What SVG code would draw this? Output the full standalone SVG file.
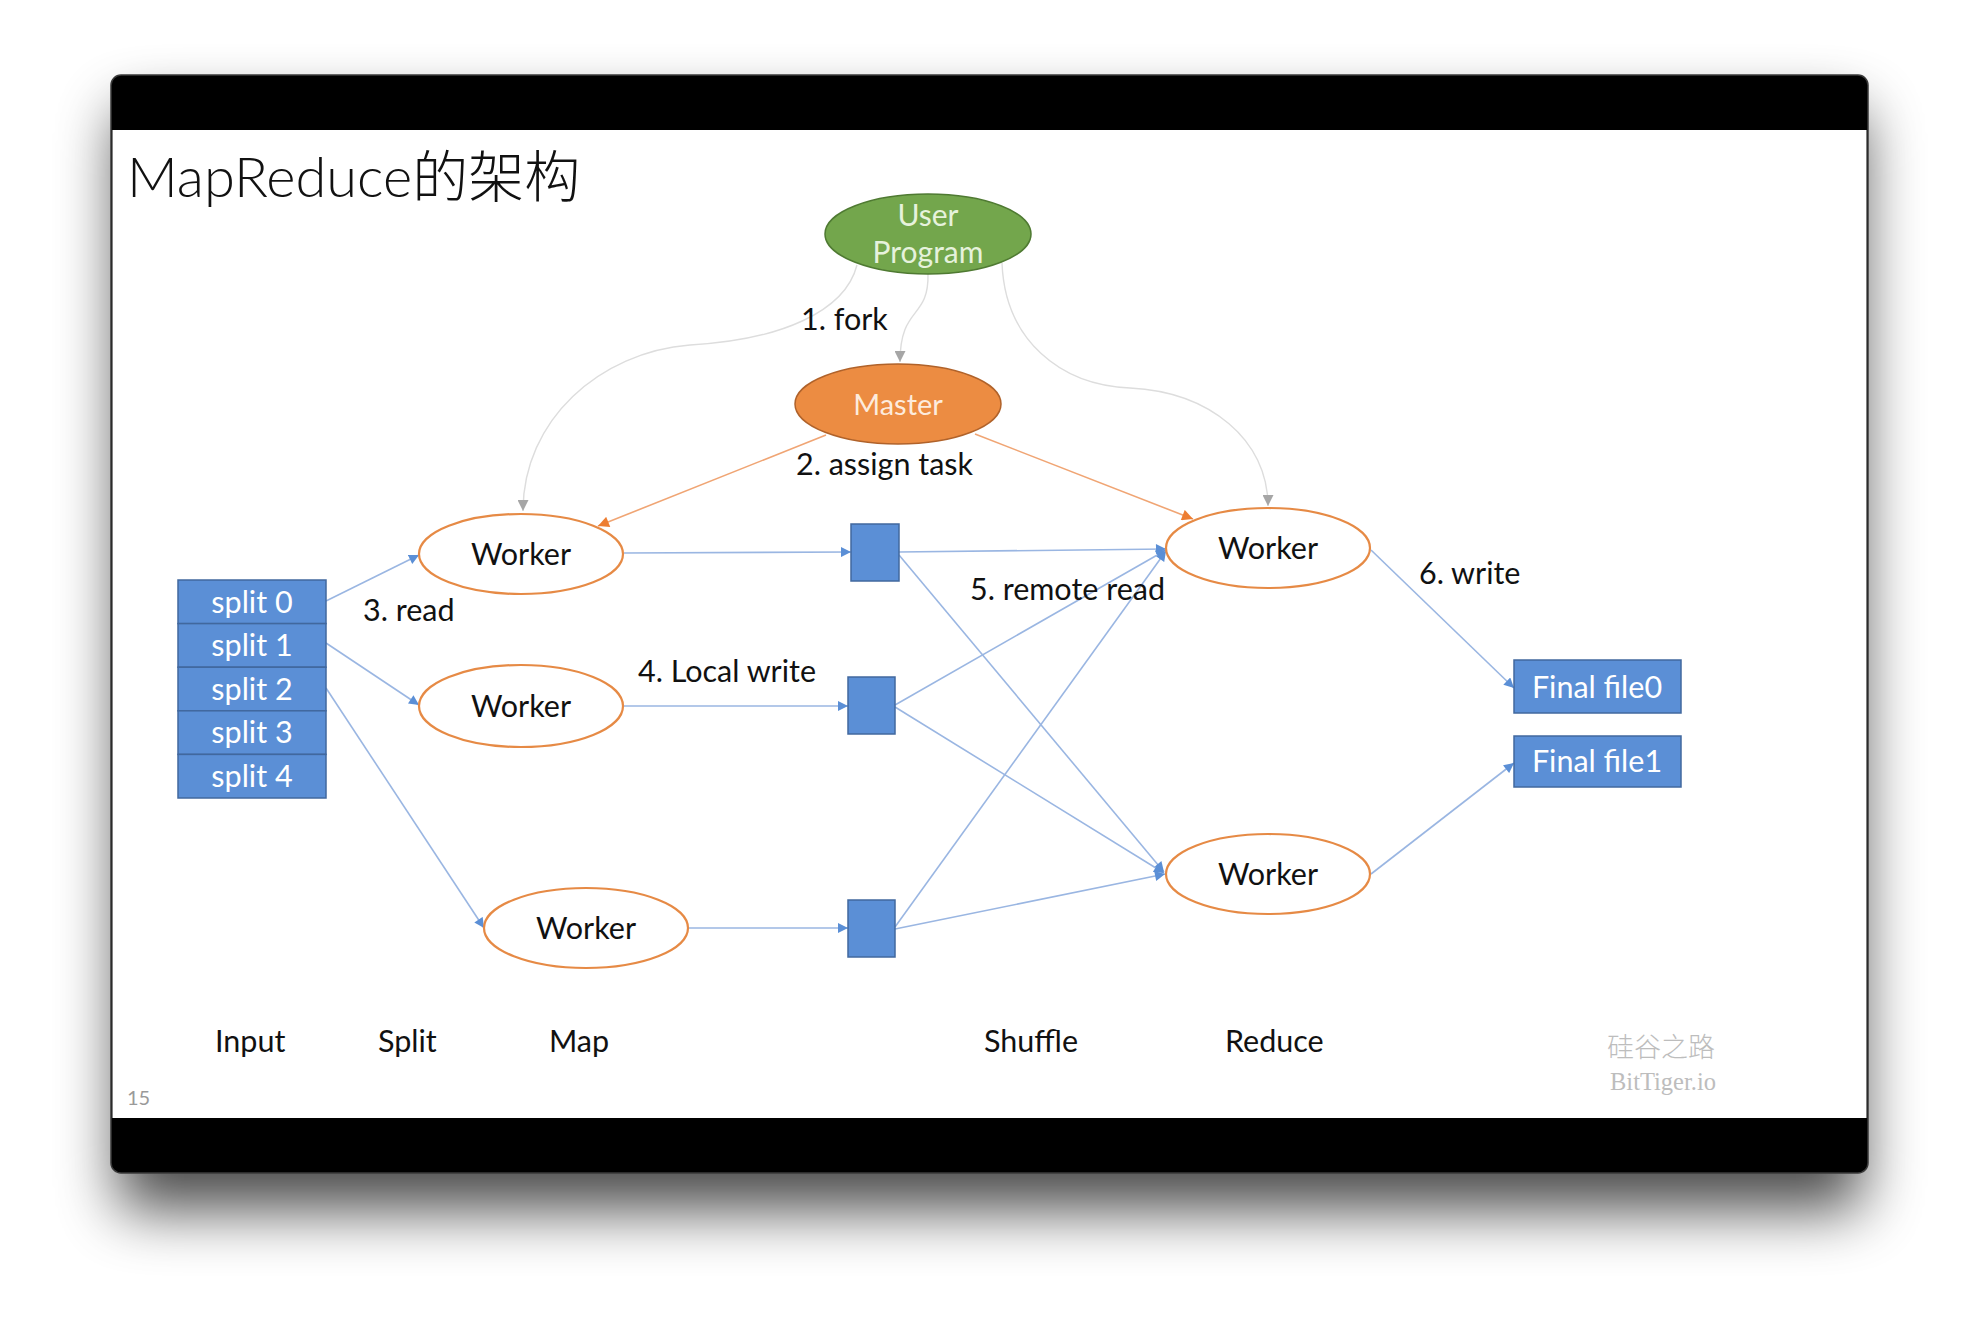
<svg xmlns="http://www.w3.org/2000/svg" width="1980" height="1322" viewBox="0 0 1980 1322">
<defs>
<filter id="shadow" x="-10%" y="-10%" width="120%" height="130%">
<feGaussianBlur stdDeviation="30"/>
</filter>
<marker id="ab" viewBox="0 0 10 10" refX="10" refY="5" markerWidth="11" markerHeight="10" markerUnits="userSpaceOnUse" orient="auto"><path d="M0,0 L10,5 L0,10 Z" fill="#5B8FD6"/></marker>
<marker id="ao" viewBox="0 0 10 10" refX="10" refY="5" markerWidth="12" markerHeight="11" markerUnits="userSpaceOnUse" orient="auto"><path d="M0,0 L10,5 L0,10 Z" fill="#ED7D31"/></marker>
<marker id="ag" viewBox="0 0 10 10" refX="10" refY="5" markerWidth="11" markerHeight="11" markerUnits="userSpaceOnUse" orient="auto"><path d="M0,0 L10,5 L0,10 Z" fill="#A6A6A6"/></marker>
</defs>
<style>
text{font-family:Lato,"Noto Sans CJK SC",sans-serif;}
.lbl{font-size:30.5px;fill:#111;}
.wk{fill:#fff;stroke:#E68A45;stroke-width:2.2;}
.blk{fill:#5B8FD6;stroke:#41689E;stroke-width:1.5;}
.wt{font-size:30.5px;fill:#FFFFFF;text-anchor:middle;}
.bl{stroke:#9AB6E2;stroke-width:1.6;fill:none;marker-end:url(#ab);}
.ol{stroke:#F0A574;stroke-width:1.6;fill:none;marker-end:url(#ao);}
.gl{stroke:#DDDDDD;stroke-width:1.4;fill:none;marker-end:url(#ag);}
.ctr{text-anchor:middle;}
</style>
<rect width="1980" height="1322" fill="#ffffff"/>
<rect x="118" y="110" width="1744" height="1100" rx="10" fill="#000" opacity="0.7" filter="url(#shadow)"/>
<rect x="111" y="75" width="1757" height="1098" rx="10" fill="#000" stroke="#3a3a3a" stroke-width="1.5"/>
<rect x="112.5" y="130" width="1754" height="988" fill="#fff"/>

<text x="127" y="197" style="font-size:56px;font-weight:300;fill:#111;">MapReduce的架构</text>

<g id="connectors">
<path class="gl" d="M928,274 C929,320 900,305 900,362"/>
<path class="gl" d="M857,265 C845,312 780,340 690,345 C600,352 523,420 523,511"/>
<path class="gl" d="M1002,263 C1005,340 1060,385 1130,388 C1210,392 1268,440 1268,506"/>
<line class="ol" x1="826" y1="435" x2="598" y2="526"/>
<line class="ol" x1="975" y1="434" x2="1193" y2="519"/>
<line class="bl" x1="326" y1="601" x2="419" y2="555"/>
<line class="bl" x1="326" y1="643" x2="419" y2="705"/>
<line class="bl" x1="326" y1="688" x2="484" y2="928"/>
<line class="bl" x1="624" y1="553" x2="851" y2="552"/>
<line class="bl" x1="624" y1="706" x2="848" y2="706"/>
<line class="bl" x1="688" y1="928" x2="848" y2="928"/>
<line class="bl" x1="899" y1="552" x2="1166" y2="549"/>
<line class="bl" x1="899" y1="555" x2="1164" y2="872"/>
<line class="bl" x1="895" y1="705" x2="1166" y2="550"/>
<line class="bl" x1="895" y1="707" x2="1164" y2="873"/>
<line class="bl" x1="895" y1="927" x2="1166" y2="551"/>
<line class="bl" x1="895" y1="929" x2="1165" y2="874"/>
<line class="bl" x1="1371" y1="550" x2="1514" y2="688"/>
<line class="bl" x1="1371" y1="874" x2="1514" y2="763"/>
</g>

<g id="user-program">
<ellipse cx="928" cy="234" rx="103" ry="40" fill="#73A64C" stroke="#4F7A32" stroke-width="1.5"/>
<text x="928" y="226" class="ctr" style="font-size:30px;fill:#E6F2DC;">User</text>
<text x="928" y="263" class="ctr" style="font-size:30px;fill:#E6F2DC;">Program</text>
</g>
<g id="master">
<ellipse cx="898" cy="404" rx="103" ry="40" fill="#EC8C42" stroke="#B0622A" stroke-width="1.5"/>
<text x="898" y="415" class="ctr" style="font-size:29px;fill:#FDEBDD;">Master</text>
</g>

<g id="splits">
<rect class="blk" x="178" y="580" width="148" height="43.6"/>
<rect class="blk" x="178" y="623.6" width="148" height="43.6"/>
<rect class="blk" x="178" y="667.2" width="148" height="43.6"/>
<rect class="blk" x="178" y="710.8" width="148" height="43.6"/>
<rect class="blk" x="178" y="754.4" width="148" height="43.6"/>
<text class="wt" x="252" y="613">split 0</text>
<text class="wt" x="252" y="656">split 1</text>
<text class="wt" x="252" y="700">split 2</text>
<text class="wt" x="252" y="743">split 3</text>
<text class="wt" x="252" y="787">split 4</text>
</g>

<g id="map-worker-1"><ellipse class="wk" cx="521" cy="554" rx="102" ry="40"/><text class="lbl ctr" x="521" y="565">Worker</text></g>
<g id="map-worker-2"><ellipse class="wk" cx="521" cy="706" rx="102" ry="41"/><text class="lbl ctr" x="521" y="717">Worker</text></g>
<g id="map-worker-3"><ellipse class="wk" cx="586" cy="928" rx="102" ry="40"/><text class="lbl ctr" x="586" y="939">Worker</text></g>

<g id="intermediate-1"><rect class="blk" x="851" y="524" width="48" height="57"/></g>
<g id="intermediate-2"><rect class="blk" x="848" y="677" width="47" height="57"/></g>
<g id="intermediate-3"><rect class="blk" x="848" y="900" width="47" height="57"/></g>

<g id="reduce-worker-1"><ellipse class="wk" cx="1268" cy="548" rx="102" ry="40"/><text class="lbl ctr" x="1268" y="559">Worker</text></g>
<g id="reduce-worker-2"><ellipse class="wk" cx="1268" cy="874" rx="102" ry="40"/><text class="lbl ctr" x="1268" y="885">Worker</text></g>

<g id="final-file0"><rect class="blk" x="1514" y="660" width="167" height="53"/><text class="wt" x="1597" y="698">Final file0</text></g>
<g id="final-file1"><rect class="blk" x="1514" y="736" width="167" height="51"/><text class="wt" x="1597" y="772">Final file1</text></g>

<g id="labels">
<text class="lbl" x="801" y="330">1. fork</text>
<text class="lbl" x="796" y="475">2. assign task</text>
<text class="lbl" x="363" y="621">3. read</text>
<text class="lbl" x="638" y="682">4. Local write</text>
<text class="lbl" x="970" y="600">5. remote read</text>
<text class="lbl" x="1419" y="584">6. write</text>
<text class="lbl" x="215" y="1052">Input</text>
<text class="lbl" x="378" y="1052">Split</text>
<text class="lbl" x="549" y="1052">Map</text>
<text class="lbl" x="984" y="1052">Shuffle</text>
<text class="lbl" x="1225" y="1052">Reduce</text>
<text x="127" y="1105" style="font-size:20px;fill:#9a9a9a;">15</text>
<text x="1661" y="1057" class="ctr" style="font-family:'Noto Sans CJK SC',sans-serif;font-size:27px;font-weight:300;fill:#BDBDBD;">硅谷之路</text>
<text x="1663" y="1090" class="ctr" style="font-family:'Liberation Serif',serif;font-size:24.5px;fill:#BDBDBD;">BitTiger.io</text>
</g>
</svg>
